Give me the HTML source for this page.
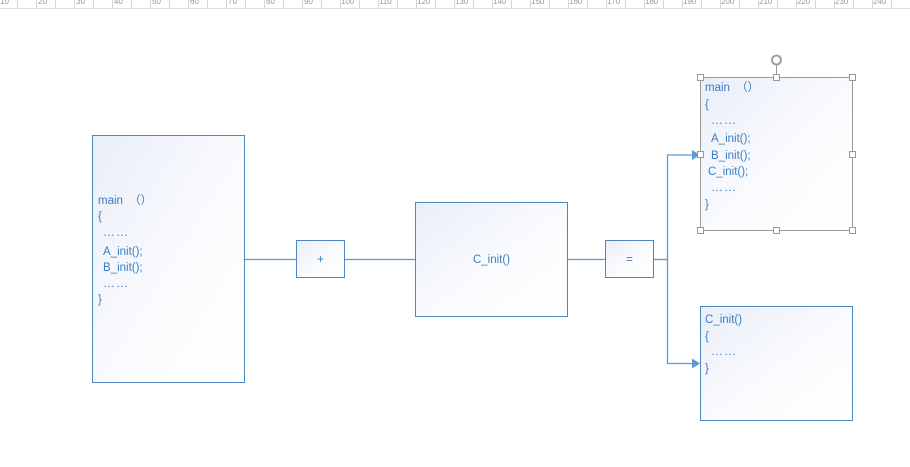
<!DOCTYPE html>
<html><head><meta charset="utf-8"><style>
html,body{margin:0;padding:0;background:#fff;width:910px;height:467px;overflow:hidden}
svg{display:block}
text{font-family:"Liberation Sans","Noto Sans CJK SC",sans-serif;font-size:11.5px;fill:#3d7cc0}
.r{font-size:8px;fill:#999}
.d{font-size:12px;letter-spacing:1px}
</style></head><body>
<svg width="910" height="467" viewBox="0 0 910 467" xmlns="http://www.w3.org/2000/svg">
<defs>
<linearGradient id="g" x1="0" y1="0" x2="1" y2="1">
<stop offset="0" stop-color="#e9eef8"/><stop offset="0.55" stop-color="#fafbfe"/><stop offset="1" stop-color="#ffffff"/>
</linearGradient>
</defs>
<rect x="0" y="0" width="910" height="9" fill="#fff"/>
<line x1="0" y1="8.5" x2="910" y2="8.5" stroke="#ddd"/>
<g stroke="#d6d6d6" stroke-width="1">
<line x1="17.5" y1="0" x2="17.5" y2="8"/><line x1="36.5" y1="0" x2="36.5" y2="8"/><line x1="55.5" y1="0" x2="55.5" y2="8"/><line x1="74.5" y1="0" x2="74.5" y2="8"/><line x1="93.5" y1="0" x2="93.5" y2="8"/><line x1="112.5" y1="0" x2="112.5" y2="8"/><line x1="131.5" y1="0" x2="131.5" y2="8"/><line x1="150.5" y1="0" x2="150.5" y2="8"/><line x1="169.5" y1="0" x2="169.5" y2="8"/><line x1="188.5" y1="0" x2="188.5" y2="8"/><line x1="207.5" y1="0" x2="207.5" y2="8"/><line x1="226.5" y1="0" x2="226.5" y2="8"/><line x1="245.5" y1="0" x2="245.5" y2="8"/><line x1="264.5" y1="0" x2="264.5" y2="8"/><line x1="283.5" y1="0" x2="283.5" y2="8"/><line x1="302.5" y1="0" x2="302.5" y2="8"/><line x1="321.5" y1="0" x2="321.5" y2="8"/><line x1="340.5" y1="0" x2="340.5" y2="8"/><line x1="359.5" y1="0" x2="359.5" y2="8"/><line x1="378.5" y1="0" x2="378.5" y2="8"/><line x1="397.5" y1="0" x2="397.5" y2="8"/><line x1="416.5" y1="0" x2="416.5" y2="8"/><line x1="435.5" y1="0" x2="435.5" y2="8"/><line x1="454.5" y1="0" x2="454.5" y2="8"/><line x1="473.5" y1="0" x2="473.5" y2="8"/><line x1="492.5" y1="0" x2="492.5" y2="8"/><line x1="511.5" y1="0" x2="511.5" y2="8"/><line x1="530.5" y1="0" x2="530.5" y2="8"/><line x1="549.5" y1="0" x2="549.5" y2="8"/><line x1="568.5" y1="0" x2="568.5" y2="8"/><line x1="587.5" y1="0" x2="587.5" y2="8"/><line x1="606.5" y1="0" x2="606.5" y2="8"/><line x1="625.5" y1="0" x2="625.5" y2="8"/><line x1="644.5" y1="0" x2="644.5" y2="8"/><line x1="663.5" y1="0" x2="663.5" y2="8"/><line x1="682.5" y1="0" x2="682.5" y2="8"/><line x1="701.5" y1="0" x2="701.5" y2="8"/><line x1="720.5" y1="0" x2="720.5" y2="8"/><line x1="739.5" y1="0" x2="739.5" y2="8"/><line x1="758.5" y1="0" x2="758.5" y2="8"/><line x1="777.5" y1="0" x2="777.5" y2="8"/><line x1="796.5" y1="0" x2="796.5" y2="8"/><line x1="815.5" y1="0" x2="815.5" y2="8"/><line x1="834.5" y1="0" x2="834.5" y2="8"/><line x1="853.5" y1="0" x2="853.5" y2="8"/><line x1="872.5" y1="0" x2="872.5" y2="8"/><line x1="891.5" y1="0" x2="891.5" y2="8"/>
</g>
<g>
<text class="r" x="0" y="4">10</text><text class="r" x="38" y="4">20</text><text class="r" x="76" y="4">30</text><text class="r" x="114" y="4">40</text><text class="r" x="152" y="4">50</text><text class="r" x="190" y="4">60</text><text class="r" x="228" y="4">70</text><text class="r" x="266" y="4">80</text><text class="r" x="304" y="4">90</text><text class="r" x="341" y="4">100</text><text class="r" x="379" y="4">110</text><text class="r" x="417" y="4">120</text><text class="r" x="455" y="4">130</text><text class="r" x="493" y="4">140</text><text class="r" x="531" y="4">150</text><text class="r" x="569" y="4">160</text><text class="r" x="607" y="4">170</text><text class="r" x="645" y="4">180</text><text class="r" x="683" y="4">190</text><text class="r" x="721" y="4">200</text><text class="r" x="759" y="4">210</text><text class="r" x="797" y="4">220</text><text class="r" x="835" y="4">230</text><text class="r" x="873" y="4">240</text>
</g>

<g stroke="#5b9bd5" stroke-width="1.3" fill="none">
<line x1="244" y1="259.5" x2="297" y2="259.5"/>
<line x1="344" y1="259.5" x2="416" y2="259.5"/>
<line x1="567" y1="259.5" x2="605" y2="259.5"/>
<line x1="653" y1="259.5" x2="667.5" y2="259.5"/>
<polyline points="667.5,259 667.5,155 693,155"/>
<polyline points="667.5,259 667.5,363.5 693,363.5"/>
</g>
<polygon points="692,150 700,155 692,160" fill="#5b9bd5"/>
<polygon points="692,358.5 700,363.5 692,368.5" fill="#5b9bd5"/>

<g fill="url(#g)" stroke="#4f86c0" stroke-width="1">
<rect x="92.5" y="135.5" width="152" height="247"/>
<rect x="296.5" y="240.5" width="48" height="37"/>
<rect x="415.5" y="202.5" width="152" height="114"/>
<rect x="605.5" y="240.5" width="48" height="37"/>
<rect x="700.5" y="306.5" width="152" height="114"/>
</g>
<rect x="700.5" y="77.5" width="152" height="153" fill="url(#g)" stroke="#999" stroke-width="1"/>
<g fill="#fff" stroke="#999" stroke-width="1">
<rect x="697.5" y="74.5" width="6" height="6"/><rect x="773.5" y="74.5" width="6" height="6"/><rect x="849.5" y="74.5" width="6" height="6"/>
<rect x="697.5" y="151.5" width="6" height="6"/><rect x="849.5" y="151.5" width="6" height="6"/>
<rect x="697.5" y="227.5" width="6" height="6"/><rect x="773.5" y="227.5" width="6" height="6"/><rect x="849.5" y="227.5" width="6" height="6"/>
</g>
<line x1="776.5" y1="64" x2="776.5" y2="75" stroke="#999"/>
<circle cx="776.5" cy="60" r="4.5" fill="none" stroke="#999" stroke-width="1.8"/>

<text x="98" y="204">main <tspan dx="3">（）</tspan></text>
<text x="98" y="220">{</text>
<text class="d" x="103" y="236">……</text>
<text x="103" y="255">A_init();</text>
<text x="103" y="271">B_init();</text>
<text class="d" x="103" y="287">……</text>
<text x="98" y="303">}</text>

<text x="320.5" y="263" text-anchor="middle">+</text>
<text x="491.5" y="263" text-anchor="middle">C_init()</text>
<text x="629.5" y="263" text-anchor="middle">=</text>

<text x="705" y="91">main <tspan dx="3">（）</tspan></text>
<text x="705" y="108">{</text>
<text class="d" x="711" y="124">……</text>
<text x="711" y="142">A_init();</text>
<text x="711" y="159">B_init();</text>
<text x="708" y="175">C_init();</text>
<text class="d" x="711" y="191">……</text>
<text x="705" y="208">}</text>

<text x="705" y="323">C_init()</text>
<text x="705" y="340">{</text>
<text class="d" x="711" y="355">……</text>
<text x="705" y="372">}</text>
</svg>
</body></html>
